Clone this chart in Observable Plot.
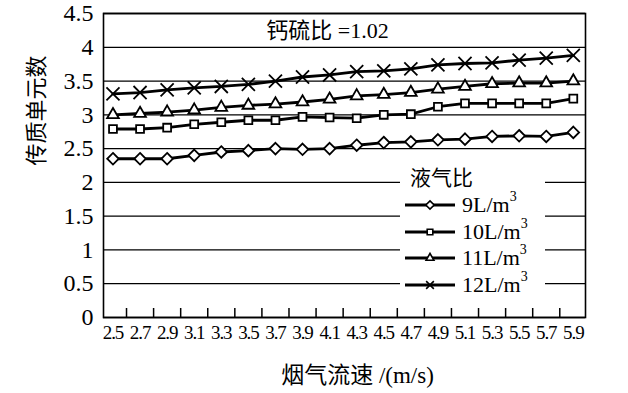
<!DOCTYPE html>
<html><head><meta charset="utf-8">
<script src="https://cdn.jsdelivr.net/npm/d3@7"></script>
<script src="https://cdn.jsdelivr.net/npm/@observablehq/plot@0.6"></script>
<style>
body{margin:0;background:#fff;}
#wrap{position:relative;width:628px;height:393px;overflow:hidden;font-family:"Liberation Serif","Noto Sans CJK SC",serif;color:#000;}
#wrap svg g[aria-label="y-axis tick label"] text{font-size:24px;font-family:"Liberation Serif",serif;}
#wrap svg g[aria-label="x-axis tick label"] text{font-size:19px;letter-spacing:-1.1px;font-family:"Liberation Serif",serif;}
#legend{position:absolute;left:400px;top:163px;width:145px;height:137px;background:#fff;}
#legend .ttl{position:absolute;left:10px;top:0px;font-size:21px;line-height:26px;font-family:"Noto Sans CJK SC",serif;}
#legend .row{position:absolute;left:0;height:26px;width:145px;}
#legend .row svg{position:absolute;left:4px;top:3px;}
#legend .row span{position:absolute;left:62px;top:0;font-size:22px;line-height:26px;white-space:nowrap;font-family:"Liberation Serif",serif;}
#legend sup{font-size:14px;vertical-align:0;position:relative;top:-11px;}
</style>
</head><body><div id="wrap"></div>
<script>
// category axis values (flue gas velocity, m/s) and labels
const speeds = [2.5, 2.7, 2.9, 3.1, 3.3, 3.5, 3.7, 3.9, 4.1, 4.3, 4.5, 4.7, 4.9, 5.1, 5.3, 5.5, 5.7, 5.9];
const tickLabels = ["2.5","2.7","2.9","3.1","3.3","3.5","3.7","3.9","4.1","4.3","4.5","4.7","4.9","5.1","5.3","5.5","5.7","5.9"];
const yTicks = [0, 0.5, 1, 1.5, 2, 2.5, 3, 3.5, 4, 4.5];

// liquid/gas ratio series
const seriesNames = ["9", "10", "11", "12"];
const ntu9  = [2.35, 2.35, 2.35, 2.40, 2.45, 2.47, 2.50, 2.49, 2.50, 2.55, 2.59, 2.60, 2.63, 2.64, 2.68, 2.69, 2.68, 2.74];
const ntu10 = [2.79, 2.79, 2.81, 2.86, 2.89, 2.92, 2.92, 2.97, 2.96, 2.95, 3.00, 3.01, 3.12, 3.17, 3.17, 3.17, 3.17, 3.24];
const ntu11 = [3.00, 3.02, 3.04, 3.07, 3.11, 3.14, 3.16, 3.19, 3.23, 3.28, 3.30, 3.33, 3.38, 3.42, 3.46, 3.47, 3.47, 3.50];
const ntu12 = [3.31, 3.33, 3.37, 3.40, 3.42, 3.45, 3.50, 3.56, 3.59, 3.64, 3.65, 3.68, 3.74, 3.76, 3.77, 3.81, 3.84, 3.88];

const title = "钙硫比 =1.02";
const yTitle = "传质单元数";
const xTitle = "烟气流速 /(m/s)";
const legendTitle = "液气比";

const allValues = [ntu9, ntu10, ntu11, ntu12];
const symbolNames = ["diamond2", "square2", "triangle2", "times"];
const symbolR = [5.2, 5.0, 5.6, 6.0];
const d3Symbols = [d3.symbolDiamond2, d3.symbolSquare2, d3.symbolTriangle2, d3.symbolTimes];

const rows = [];
seriesNames.forEach((s, k) => allValues[k].forEach((v, i) => rows.push({series: s, speed: speeds[i], value: v})));
// tick marks sit between categories
const between = speeds.slice(1).map((v, i) => (v + speeds[i]) / 2);

const serifCJK = '"Liberation Serif","Noto Sans CJK SC",serif';
const marks = [
  Plot.gridY(yTicks, {stroke: "black", strokeOpacity: 1, strokeWidth: 1.3}),
  Plot.frame({stroke: "black", strokeWidth: 1.6}),
  Plot.tickX(between, {x: d => d, stroke: "black", strokeWidth: 1.5, insetTop: 295}),
  Plot.axisY(yTicks, {tickSize: 0, tickPadding: 10, tickFormat: d => String(d), label: null}),
  Plot.axisX(speeds, {tickSize: 0, tickPadding: 8, tickFormat: d => tickLabels[speeds.indexOf(d)], label: null}),
  Plot.line(rows, {x: "speed", y: "value", z: "series", stroke: "black", strokeWidth: 2.8}),
];
seriesNames.forEach((s, k) => {
  marks.push(Plot.dot(rows.filter(r => r.series === s), {
    x: "speed", y: "value", symbol: () => symbolNames[k], r: symbolR[k],
    fill: k === 3 ? "none" : "white", stroke: "black", strokeWidth: 1.8
  }));
});
marks.push(
  Plot.text([title], {text: d => d, frameAnchor: "top", lineAnchor: "middle", dx: -17, dy: 17, fontSize: 22, fontFamily: serifCJK}),
  Plot.text([yTitle], {text: d => d, frameAnchor: "left", lineAnchor: "middle", dx: -67, rotate: -90, fontSize: 22, fontFamily: "Noto Sans CJK SC"}),
  Plot.text([xTitle], {text: d => d, frameAnchor: "bottom", lineAnchor: "middle", dx: 13, dy: 58, fontSize: 23, fontFamily: serifCJK})
);

const chart = Plot.plot({
  width: 628, height: 393,
  marginLeft: 103, marginRight: 43, marginTop: 13, marginBottom: 76,
  style: {fontFamily: serifCJK, fontSize: "18px", color: "black", background: "white", overflow: "visible"},
  x: {type: "linear", domain: [2.43, 5.99]},
  y: {domain: [0, 4.5]},
  symbol: {type: "identity"},
  marks
});
const wrap = document.getElementById("wrap");
wrap.appendChild(chart);

// legend with white background over the grid
const lg = document.createElement("div");
lg.id = "legend";
const t = document.createElement("div");
t.className = "ttl"; t.textContent = legendTitle; lg.appendChild(t);
const legendSizes = [44, 40, 44, 40];
seriesNames.forEach((s, k) => {
  const row = document.createElement("div");
  row.className = "row";
  row.style.top = (29 + k * 26.7) + "px";
  const svg = d3.create("svg").attr("width", 54).attr("height", 20);
  svg.append("line").attr("x1", 1).attr("x2", 51).attr("y1", 10).attr("y2", 10).attr("stroke", "black").attr("stroke-width", 2.8);
  svg.append("path").attr("d", d3.symbol(d3Symbols[k], legendSizes[k])())
    .attr("transform", "translate(26,10)")
    .attr("fill", k === 3 ? "none" : "white").attr("stroke", "black").attr("stroke-width", 1.6);
  row.appendChild(svg.node());
  const sp = document.createElement("span");
  sp.innerHTML = s + "L/m<sup>3</sup>";
  row.appendChild(sp);
  lg.appendChild(row);
});
wrap.appendChild(lg);
</script>
</body></html>
